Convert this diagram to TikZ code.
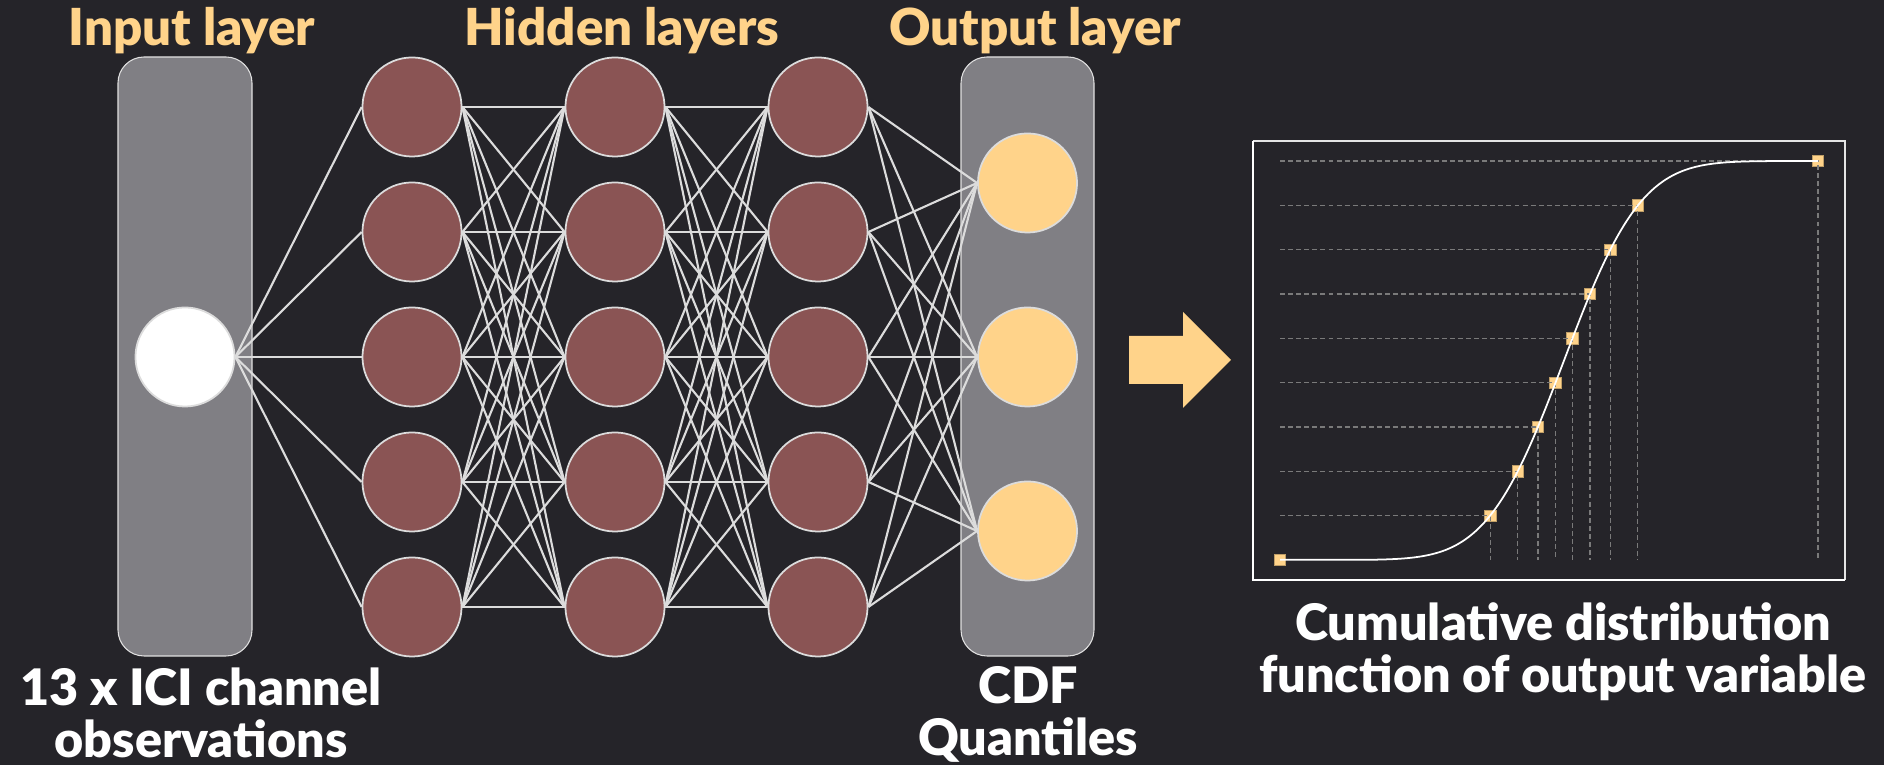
\documentclass[tikz,border=0pt]{standalone}
\usepackage{xcolor}
\usepackage{tikz}
\usepackage{fontspec}
\setmainfont{Lato}[BoldFont={Lato Black}]
\definecolor{nnback}{HTML}{252429}
\definecolor{nnyellow}{HTML}{FFD38A}
\definecolor{nnred}{HTML}{8A5454}
\definecolor{nngray}{HTML}{807F84}
\definecolor{nnline}{HTML}{DCDCDC}
\definecolor{nndash}{HTML}{7A7A7A}

\tikzset{
  neuron/.style={circle,draw=nnline,line width=0.5pt,minimum size=0.99cm,inner sep=0pt},
  layerbox/.style={fill=nngray,draw=nnline!85,line width=0.3pt,rounded corners=0.26cm},
  link/.style={nnline,line width=0.6pt},
  quant/.style={rectangle,fill=nnyellow,draw=nnyellow!75!black,line width=0.2pt,minimum size=0.115cm,inner sep=0pt},
  guide/.style={nndash,line width=0.35pt,dash pattern=on 1.4pt off 0.9pt},
  title/.style={text=nnyellow,font=\fontsize{14.5}{16}\selectfont\bfseries,anchor=base},
  caption/.style={text=white,font=\fontsize{14.3}{14}\selectfont\bfseries,align=center,anchor=base},
  declare function={cdfz(\t)=0.5*(1+tanh(max(-4,min(4,0.79788*(\t+0.044715*\t*\t*\t)))));}
}

\begin{document}
\begin{tikzpicture}[x=0.01cm,y=-0.01cm]
  \useasboundingbox (0,0) rectangle (1884,765);
  \fill[nnback] (0,0) rectangle (1884,765);

  % layer boxes
  \draw[layerbox] (118,57) rectangle (252,656);
  \draw[layerbox] (961,57) rectangle (1094,656);

  % neurons
  \node[neuron,fill=white] (in) at (185,357) {};
  \foreach \l/\x in {1/412,2/615,3/818}
    \foreach \n/\y in {1/107,2/232,3/357,4/482,5/607}
      \node[neuron,fill=nnred] (h\l-\n) at (\x,\y) {};
  \foreach \n/\y in {1/183,2/357,3/531}
    \node[neuron,fill=nnyellow] (out\n) at (1027.5,\y) {};

  % connections
  \foreach \b in {1,...,5}
    \draw[link] (in.east) -- (h1-\b.west);
  \foreach \a in {1,...,5}
    \foreach \b in {1,...,5} {
      \draw[link] (h1-\a.east) -- (h2-\b.west);
      \draw[link] (h2-\a.east) -- (h3-\b.west);
    }
  \foreach \a in {1,...,5}
    \foreach \b in {1,2,3}
      \draw[link] (h3-\a.east) -- (out\b.west);

  % big arrow
  \fill[nnyellow] (1129,336) -- (1183,336) -- (1183,312) -- (1231,360)
    -- (1183,408) -- (1183,384) -- (1129,384) -- cycle;

  % cdf plot frame
  \draw[nnline!75,line width=0.6pt] (1253,141) -- (1845,141) -- (1845,580);
  \draw[white,line width=0.6pt] (1253,141) -- (1253,580) -- (1845,580);

  % quantile markers
  \node[quant] (q0) at (1280,560) {};
  \foreach \q [count=\i] in {-1.2206,-0.7647,-0.4307,-0.1397,0.1397,0.4307,0.7647,1.2206}
    \node[quant] (q\i) at ({1564+60.5*\q},{560-44.33*\i}) {};
  \node[quant] (q9) at (1818,161) {};
  \foreach \i in {1,...,9}
    \draw[guide] (q0.center |- q\i.center) -- (q\i.center) -- (q\i.center |- q0.center);
  \draw[white,line width=0.5pt] plot[domain=1280:1818,samples=160,smooth]
    (\x,{560-399*cdfz((\x-1564)/60.5)});

  % labels
  \node[title] (tin) at (192,46) {Input layer};
  \node[title] (thid) at (622,46) {Hidden layers};
  \node[title] (tout) at (1035,46) {Output layer};
  \node[caption] (cin) at (201,758) {13 x ICI channel\\[1pt]observations};
  \node[caption] (cout) at (1028,756) {CDF\\[1pt]Quantiles};
  \node[caption] (ccdf) at (1563,693) {Cumulative distribution\\[1pt]function of output variable};
\end{tikzpicture}
\end{document}
